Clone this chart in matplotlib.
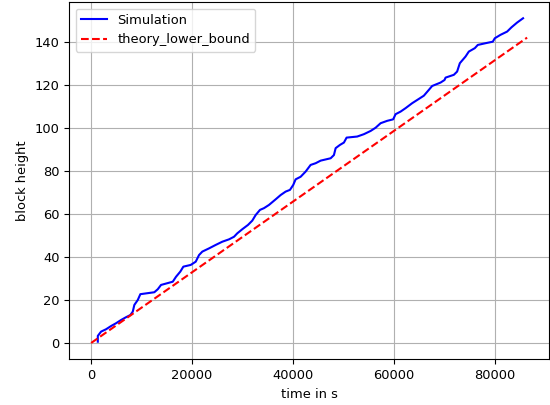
import numpy as np
import matplotlib
matplotlib.use('Agg')
import matplotlib.pyplot as plt

# simulated chain: time (s) vs block height
simTime = [1330, 1330, 1980, 2970, 3960, 4950, 5940, 6930, 7780, 8260,
           8570, 9250, 9760, 12530, 13210, 13860, 16180, 16830, 17680, 18280,
           19740, 20730, 21390, 22040, 23370, 24690, 26000, 27330, 28320, 28970,
           29960, 31090, 31940, 32610, 33470, 34260, 35250, 36570, 37560, 38550,
           39410, 40060, 40530, 41520, 42510, 43500, 44500, 45490, 47470, 48120,
           48460, 49310, 50100, 50630, 52730, 54060, 55390, 56380, 57370, 58670,
           59860, 60340, 61330, 62320, 63620, 64950, 65940, 66930, 67580, 69250,
           70040, 70240, 71880, 72530, 73070, 74200, 74850, 76040, 76630, 78160,
           79600, 80000, 81130, 82440, 83310, 84420, 85600]
simHeight = [0.6, 3.3, 5.3, 6.4, 7.9, 9.2, 10.7, 12.0, 13.0, 14.6,
             17.7, 20.0, 22.7, 23.6, 25.0, 27.0, 28.5, 30.8, 33.2, 35.5,
             36.3, 37.8, 40.9, 42.5, 44.0, 45.6, 47.1, 48.2, 49.4, 51.0,
             52.9, 54.9, 56.9, 59.5, 61.9, 62.7, 64.2, 66.8, 68.8, 70.4,
             71.2, 73.5, 76.1, 77.3, 79.7, 82.8, 83.6, 84.8, 85.9, 87.4,
             90.6, 92.1, 93.2, 95.5, 96.0, 97.1, 98.6, 100.1, 102.2, 103.3,
             104.0, 106.4, 107.6, 109.2, 111.5, 113.5, 115.0, 117.7, 119.5, 121.1,
             122.3, 123.4, 124.7, 126.2, 130.1, 133.2, 135.5, 137.1, 138.6, 139.4,
             140.1, 141.7, 143.3, 144.8, 146.8, 149.0, 151.0]

# theory lower bound, straight line over one day
theoryTime = [0, 86400]
theoryHeight = [0, 142]

plt.rcParams['font.size'] = 9.4

fig = plt.figure(figsize=(5.5, 4.05), dpi=100)
ax = fig.add_axes([0.126, 0.113, 0.872, 0.882])
ax.plot(simTime, simHeight, color='blue', lw=1.5, label='Simulation')
ax.plot(theoryTime, theoryHeight, color='red', ls='--', lw=1.5,
        label='theory_lower_bound')
ax.set_xlabel('time in s')
ax.set_ylabel('block height')
ax.set_yticks(np.arange(0, 141, 20))
ax.grid(True)
ax.legend(loc='upper left')
fig.savefig('out.png', dpi=100)
